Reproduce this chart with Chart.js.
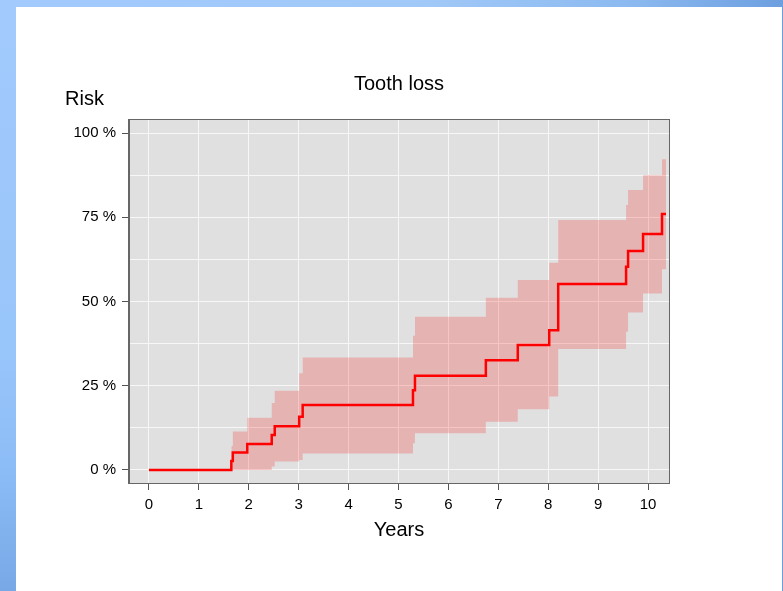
<!DOCTYPE html>
<html>
<head>
<meta charset="utf-8">
<script src="https://cdn.jsdelivr.net/npm/chart.js@4/dist/chart.umd.min.js"></script>
<style>
  html, body { margin: 0; padding: 0; }
  body { width: 783px; height: 591px; position: relative; overflow: hidden; background: #ffffff; }
  #topbar { position: absolute; left: 0; top: 0; width: 783px; height: 7px;
    background: linear-gradient(to right, #a2cafd 0%, #a0c8f8 55%, #8cbaf0 80%, #6d9fe0 100%); }
  #leftbar { position: absolute; left: 0; top: 0; width: 16px; height: 591px;
    background: linear-gradient(to bottom, #a2cafd 0%, #98c5fa 60%, #8cbcf6 80%, #78a8e6 100%); }
  #rightline { position: absolute; left: 782px; top: 0; width: 1px; height: 591px; background: #6a9fe0; }
  #chart { position: absolute; left: 0; top: 0; }
</style>
</head>
<body>
<div id="topbar"></div>
<div id="leftbar"></div>
<div id="rightline"></div>
<canvas id="chart" width="783" height="591"></canvas>
<script>
// cumulative risk of tooth loss (years, percent)
const riskTimes = [0, 1.65, 1.68, 1.97, 2.46, 2.52, 3.01, 3.08, 5.29, 5.33, 6.75, 7.39, 8.02, 8.20, 9.56, 9.60, 9.90, 10.28, 10.36];
const riskValues = [0, 2.7, 5.2, 7.7, 10.4, 13.0, 15.8, 19.3, 23.7, 28.0, 32.6, 37.1, 41.5, 55.2, 60.3, 65.0, 70.0, 76.0, 76.0];

// confidence band
const bandTimes = [1.65, 1.68, 1.97, 2.46, 2.52, 3.01, 3.08, 5.29, 5.33, 6.75, 7.39, 8.02, 8.20, 9.56, 9.60, 9.90, 10.28, 10.36];
const bandUpper = [7.1, 11.4, 15.5, 19.9, 23.5, 28.7, 33.4, 39.8, 45.5, 51.1, 56.4, 61.5, 74.2, 78.6, 83.1, 87.5, 92.2, 92.2];
const bandLower = [0, 0, 0, 1.0, 2.5, 3.0, 4.9, 7.9, 10.9, 14.3, 18.0, 21.8, 35.9, 41.0, 46.7, 52.4, 59.6, 59.6];

// axis ticks
const xTicks = [0, 1, 2, 3, 4, 5, 6, 7, 8, 9, 10];
const yGrid = [0, 12.5, 25, 37.5, 50, 62.5, 75, 87.5, 100];
const yLabelled = [0, 25, 50, 75, 100];

const FONT = '"Liberation Sans", Arial, sans-serif';

function points(xs, ys) {
    return xs.map((x, i) => ({x: x, y: ys[i]}));
}

// gray panel, box and the free-standing texts
const panel = {
    id: 'panel',
    beforeDraw(chart) {
        const {ctx, chartArea: a} = chart;
        ctx.save();
        ctx.fillStyle = '#e0e0e0';
        ctx.fillRect(a.left, a.top, a.right - a.left, a.bottom - a.top);
        ctx.restore();
    },
    afterDraw(chart) {
        const {ctx, chartArea: a} = chart;
        ctx.save();
        ctx.strokeStyle = '#666666';
        ctx.lineWidth = 1;
        ctx.strokeRect(Math.round(a.left) - 0.5, Math.round(a.top) - 0.5,
            Math.round(a.right - a.left) + 1, Math.round(a.bottom - a.top) + 1);
        ctx.fillStyle = '#000000';
        ctx.font = '20px ' + FONT;
        ctx.textBaseline = 'alphabetic';
        ctx.textAlign = 'center';
        ctx.fillText('Tooth loss', (a.left + a.right) / 2, 90);
        ctx.textAlign = 'left';
        ctx.fillText('Risk', 65, 105);
        ctx.restore();
    }
};

new Chart(document.getElementById('chart'), {
    type: 'line',
    data: {
        datasets: [{
            label: 'Risk',
            data: points(riskTimes, riskValues),
            borderColor: '#ff0000',
            borderWidth: 2.5,
            pointRadius: 0,
            stepped: true,
            fill: false
        }, {
            label: 'Upper',
            data: points(bandTimes, bandUpper),
            borderWidth: 0,
            borderColor: 'rgba(0,0,0,0)',
            backgroundColor: 'rgba(255,0,0,0.2)',
            pointRadius: 0,
            stepped: true,
            fill: '+1'
        }, {
            label: 'Lower',
            data: points(bandTimes, bandLower),
            borderWidth: 0,
            borderColor: 'rgba(0,0,0,0)',
            pointRadius: 0,
            stepped: true,
            fill: false
        }]
    },
    options: {
        responsive: false,
        animation: false,
        devicePixelRatio: 1,
        layout: {padding: {left: 69, right: 114, top: 120, bottom: 38}},
        plugins: {
            legend: {display: false},
            tooltip: {enabled: false},
            title: {display: false}
        },
        scales: {
            x: {
                type: 'linear',
                min: -0.4,
                max: 10.42,
                afterBuildTicks: s => { s.ticks = xTicks.map(v => ({value: v})); },
                afterFit: s => { s.height = 70; },
                grid: {color: '#f7f7f7', lineWidth: 1, tickLength: 7, tickColor: '#555555'},
                border: {display: true, color: '#666666', width: 1},
                ticks: {color: '#000000', padding: 6, font: {family: FONT, size: 15}, maxRotation: 0},
                title: {display: true, text: 'Years', color: '#000000',
                    font: {family: FONT, size: 20}, padding: {top: 0, bottom: 11}}
            },
            y: {
                type: 'linear',
                min: -3.86,
                max: 103.86,
                afterBuildTicks: s => { s.ticks = yGrid.map(v => ({value: v})); },
                afterFit: s => { s.width = 60; },
                grid: {
                    color: '#f7f7f7',
                    lineWidth: 1,
                    tickLength: 7,
                    tickColor: c => yLabelled.includes(c.tick.value) ? '#555555' : 'rgba(0,0,0,0)'
                },
                border: {display: true, color: '#666666', width: 1},
                ticks: {
                    color: '#000000',
                    padding: 6,
                    font: {family: FONT, size: 15},
                    callback: v => yLabelled.includes(v) ? v + ' %' : ''
                }
            }
        }
    },
    plugins: [panel]
});
</script>
</body>
</html>
